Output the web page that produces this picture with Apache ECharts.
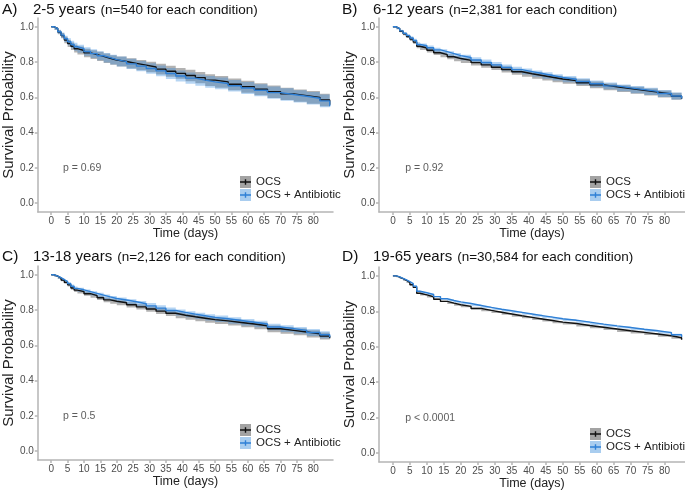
<!DOCTYPE html>
<html>
<head>
<meta charset="utf-8">
<title>Survival by age group</title>
<script src="https://cdn.jsdelivr.net/npm/echarts@6/dist/echarts.min.js"></script>
<style>
  html, body { margin: 0; padding: 0; background: #fff; }
  #chart { width: 685px; height: 491px; }
</style>
</head>
<body>
<div id="chart"></div>
<script>
const days = [0, 1, 2, 3, 4, 5, 6, 7, 8, 10, 12, 14, 16, 18, 20, 23, 26, 29, 32, 35, 38, 41, 44, 47, 50, 54, 58, 62, 66, 70, 74, 78, 82, 85];
const xTicks = [0, 5, 10, 15, 20, 25, 30, 35, 40, 45, 50, 55, 60, 65, 70, 75, 80];
const yTicks = [0, 0.2, 0.4, 0.6, 0.8, 1.0];

const letters = ['A)', 'B)', 'C)', 'D)'];
const ageGroups = ['2-5 years', '6-12 years', '13-18 years', '19-65 years'];
const notes = ['(n=540 for each condition)', '(n=2,381 for each condition)', '(n=2,126 for each condition)', '(n=30,584 for each condition)'];
const pValues = ['p = 0.69', 'p = 0.92', 'p = 0.5', 'p < 0.0001'];
const groups = ['OCS', 'OCS + Antibiotic'];

// A) 2-5 years
const ocsA = [1, 0.99, 0.97, 0.95, 0.925, 0.905, 0.89, 0.876, 0.866, 0.852, 0.842, 0.832, 0.822, 0.812, 0.803, 0.793, 0.783, 0.772, 0.76, 0.748, 0.736, 0.724, 0.712, 0.698, 0.688, 0.674, 0.66, 0.646, 0.632, 0.62, 0.61, 0.6, 0.585, 0.558];
const abxA = [1, 0.99, 0.972, 0.953, 0.932, 0.915, 0.9, 0.887, 0.876, 0.86, 0.848, 0.836, 0.825, 0.814, 0.803, 0.79, 0.777, 0.764, 0.75, 0.735, 0.721, 0.709, 0.698, 0.688, 0.679, 0.666, 0.653, 0.64, 0.627, 0.616, 0.606, 0.595, 0.58, 0.55];
const ciA = [0, 0.008, 0.012, 0.015, 0.018, 0.02, 0.021, 0.022, 0.023, 0.024, 0.025, 0.026, 0.027, 0.027, 0.028, 0.029, 0.029, 0.03, 0.03, 0.031, 0.031, 0.032, 0.032, 0.033, 0.033, 0.033, 0.034, 0.034, 0.035, 0.035, 0.035, 0.036, 0.036, 0.037];

// B) 6-12 years
const ocsB = [1, 0.99, 0.975, 0.96, 0.945, 0.93, 0.913, 0.89, 0.88, 0.867, 0.853, 0.842, 0.83, 0.82, 0.81, 0.797, 0.784, 0.771, 0.758, 0.745, 0.734, 0.724, 0.714, 0.704, 0.695, 0.683, 0.671, 0.66, 0.65, 0.64, 0.63, 0.619, 0.606, 0.592];
const abxB = [1, 0.99, 0.977, 0.963, 0.95, 0.937, 0.922, 0.9, 0.893, 0.881, 0.869, 0.859, 0.848, 0.837, 0.826, 0.812, 0.798, 0.784, 0.77, 0.757, 0.746, 0.735, 0.724, 0.713, 0.703, 0.69, 0.677, 0.665, 0.654, 0.644, 0.634, 0.622, 0.608, 0.594];
const ciB = [0, 0.004, 0.006, 0.008, 0.009, 0.01, 0.011, 0.012, 0.012, 0.013, 0.013, 0.014, 0.014, 0.015, 0.015, 0.016, 0.016, 0.016, 0.017, 0.017, 0.017, 0.018, 0.018, 0.018, 0.018, 0.019, 0.019, 0.019, 0.019, 0.02, 0.02, 0.02, 0.02, 0.02];

// C) 13-18 years
const ocsC = [1, 0.992, 0.982, 0.97, 0.957, 0.943, 0.925, 0.913, 0.905, 0.893, 0.882, 0.87, 0.858, 0.85, 0.842, 0.83, 0.818, 0.806, 0.794, 0.782, 0.771, 0.762, 0.754, 0.746, 0.739, 0.73, 0.721, 0.711, 0.694, 0.685, 0.676, 0.665, 0.653, 0.641];
const abxC = [1, 0.993, 0.984, 0.973, 0.962, 0.95, 0.935, 0.923, 0.915, 0.905, 0.895, 0.885, 0.875, 0.866, 0.857, 0.847, 0.836, 0.824, 0.811, 0.798, 0.787, 0.777, 0.768, 0.759, 0.751, 0.741, 0.731, 0.721, 0.704, 0.695, 0.685, 0.673, 0.66, 0.646];
const ciC = [0, 0.004, 0.006, 0.007, 0.008, 0.009, 0.01, 0.011, 0.011, 0.012, 0.012, 0.013, 0.013, 0.014, 0.014, 0.015, 0.015, 0.016, 0.016, 0.016, 0.017, 0.017, 0.017, 0.018, 0.018, 0.018, 0.018, 0.019, 0.019, 0.019, 0.019, 0.02, 0.02, 0.02];

// D) 19-65 years
const ocsD = [1, 0.993, 0.984, 0.974, 0.963, 0.95, 0.935, 0.902, 0.893, 0.882, 0.868, 0.856, 0.846, 0.837, 0.828, 0.816, 0.805, 0.795, 0.785, 0.775, 0.766, 0.757, 0.748, 0.739, 0.731, 0.72, 0.71, 0.7, 0.69, 0.681, 0.672, 0.662, 0.651, 0.64];
const abxD = [1, 0.994, 0.986, 0.977, 0.967, 0.956, 0.942, 0.913, 0.905, 0.895, 0.883, 0.871, 0.861, 0.853, 0.844, 0.833, 0.822, 0.812, 0.803, 0.794, 0.785, 0.776, 0.767, 0.758, 0.75, 0.739, 0.728, 0.718, 0.709, 0.699, 0.69, 0.68, 0.668, 0.655];
const ciD = [0, 0.001, 0.002, 0.002, 0.003, 0.003, 0.003, 0.004, 0.004, 0.004, 0.004, 0.004, 0.005, 0.005, 0.005, 0.005, 0.005, 0.005, 0.005, 0.005, 0.005, 0.006, 0.006, 0.006, 0.006, 0.006, 0.006, 0.006, 0.006, 0.006, 0.006, 0.006, 0.006, 0.006];

const panels = [
  { ocs: ocsA, abx: abxA, ci: ciA },
  { ocs: ocsB, abx: abxB, ci: ciB },
  { ocs: ocsC, abx: abxC, ci: ciC },
  { ocs: ocsD, abx: abxD, ci: ciD }
];

// layout
const grids = [
  { left: 32, top: 18, width: 301, height: 194 },
  { left: 379, top: 18, width: 306, height: 194 },
  { left: 32, top: 266, width: 301, height: 194 },
  { left: 379, top: 267, width: 306, height: 195 }
];
const titlePos = [[2, 1], [342, 1], [2, 248], [342, 248]];
const legendPos = [[240, 176], [590, 176], [240, 424], [590, 428]];

const lineColors = ['#111111', '#2f80d6'];
const bandColors = ['rgba(0,0,0,0.3)', 'rgba(46,134,222,0.35)'];
const keyColors = ['#a3a3a3', '#a9cdef'];
const FONT = '"Liberation Sans", Arial, sans-serif';

const chart = echarts.init(document.getElementById('chart'));

// confidence band as a stepped polygon, placed through the axis scales
function bandSeries(idx, values, ci, color) {
  return {
    type: 'custom', xAxisIndex: idx, yAxisIndex: idx, silent: true, z: 1,
    data: [[days[0], values[0]]],
    renderItem: function (params, api) {
      const upper = [], lower = [];
      for (let k = 0; k < days.length; k++) {
        const t0 = days[k];
        const t1 = k + 1 < days.length ? days[k + 1] : days[k];
        upper.push(api.coord([t0, values[k] + ci[k]]), api.coord([t1, values[k] + ci[k]]));
        lower.push(api.coord([t0, values[k] - ci[k]]), api.coord([t1, values[k] - ci[k]]));
      }
      return {
        type: 'polygon',
        shape: { points: upper.concat(lower.reverse()) },
        style: { fill: color }
      };
    }
  };
}

function curveSeries(idx, g, values) {
  return {
    type: 'line', name: groups[g], xAxisIndex: idx, yAxisIndex: idx, step: 'end',
    symbol: 'none', silent: true, z: 3,
    lineStyle: { color: lineColors[g], width: 1.4 },
    itemStyle: { color: lineColors[g] },
    data: days.map((d, k) => [d, values[k]])
  };
}

const series = [];
panels.forEach((p, i) => {
  series.push(bandSeries(i, p.ocs, p.ci, bandColors[0]));
  series.push(bandSeries(i, p.abx, p.ci, bandColors[1]));
  series.push(curveSeries(i, 0, p.ocs));
  series.push(curveSeries(i, 1, p.abx));
  series.push({
    type: 'scatter', xAxisIndex: i, yAxisIndex: i, symbolSize: 0, silent: true, z: 4,
    data: [[3.6, 0.2]],
    label: {
      show: true, position: 'right', distance: 0, formatter: pValues[i],
      color: '#333', fontSize: 10.5, fontFamily: FONT
    }
  });
});

const crossIcon = 'path://M0,0h0.01v0.01h-0.01z M10.99,11.99h0.01v0.01h-0.01z M0,5.3h11v1.4h-11z M4.8,3.3h1.4v5.4h-1.4z';

const legends = [];
legendPos.forEach(pos => {
  const base = {
    orient: 'vertical', left: pos[0], top: pos[1], padding: 0,
    itemWidth: 11, itemHeight: 12, itemGap: 1, selectedMode: false,
    textStyle: { fontSize: 11.5, color: '#222', fontFamily: FONT }
  };
  legends.push(Object.assign({}, base, {
    data: groups.map((g, k) => ({ name: g, icon: 'rect', itemStyle: { color: keyColors[k], borderWidth: 0 } }))
  }));
  legends.push(Object.assign({}, base, {
    textStyle: Object.assign({}, base.textStyle, { color: 'rgba(0,0,0,0)' }),
    data: groups.map((g, k) => ({ name: g, icon: crossIcon, itemStyle: { color: lineColors[k], borderWidth: 0 } }))
  }));
});

const axisLineStyle = { color: '#b5b5b5', width: 1.5 };

const option = {
  animation: false,
  textStyle: { fontFamily: FONT },
  title: titlePos.map((pos, i) => ({
    left: pos[0], top: pos[1], padding: 0,
    text: '{l|' + letters[i] + '}{m|' + ageGroups[i] + '} {s|' + notes[i] + '}',
    textStyle: {
      fontWeight: 'normal',
      rich: {
        l: { fontSize: 15.5, color: '#111', width: 31, fontWeight: 'normal', fontFamily: FONT },
        m: { fontSize: 15, color: '#111', fontWeight: 'normal', fontFamily: FONT },
        s: { fontSize: 13.5, color: '#111', fontWeight: 'normal', fontFamily: FONT }
      }
    }
  })),
  legend: legends,
  grid: grids.map(g => Object.assign({ containLabel: false }, g)),
  xAxis: grids.map((g, i) => ({
    type: 'value', gridIndex: i, min: -4.1, max: 86,
    name: 'Time (days)', nameLocation: 'middle', nameGap: 13,
    nameTextStyle: { fontSize: 12.5, color: '#222', fontFamily: FONT },
    axisLine: { show: true, onZero: false, lineStyle: axisLineStyle },
    axisTick: { show: true, length: 3, customValues: xTicks, lineStyle: axisLineStyle },
    axisLabel: { customValues: xTicks, margin: 4, fontSize: 10, color: '#4d4d4d', fontFamily: FONT },
    splitLine: { show: false }
  })),
  yAxis: grids.map((g, i) => ({
    type: 'value', gridIndex: i, min: -0.05, max: 1.05,
    name: 'Survival Probability', nameLocation: 'middle', nameGap: 14,
    nameTextStyle: { fontSize: 15, color: '#222', fontFamily: FONT },
    axisLine: { show: true, onZero: false, lineStyle: axisLineStyle },
    axisTick: { show: true, length: 3, customValues: yTicks, lineStyle: axisLineStyle },
    axisLabel: {
      customValues: yTicks, margin: 4, fontSize: 10, color: '#4d4d4d', fontFamily: FONT,
      formatter: v => v.toFixed(1)
    },
    splitLine: { show: false }
  })),
  series: series
};

chart.setOption(option);
window.addEventListener('resize', chart.resize);
</script>
</body>
</html>
